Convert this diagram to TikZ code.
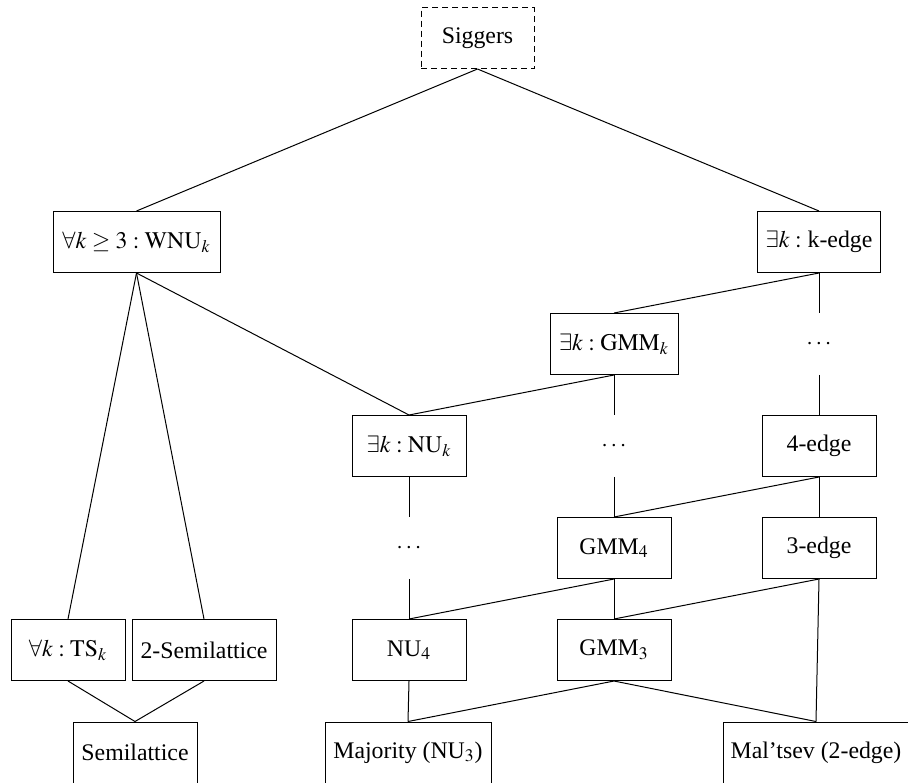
\documentclass[tikz,border=0pt]{standalone}
\usepackage{mathptmx}
\usepackage{fontspec}
\setmainfont{Liberation Serif}
\begin{document}
\begin{tikzpicture}[x=0.5pt,y=-0.5pt,
  every node/.style={font=\fontsize{11.9pt}{14pt}\selectfont},
  box/.style={draw, line width=0.5pt, minimum height=30.5pt, minimum width=57pt, inner sep=0pt},
  dbox/.style={box, dash pattern=on 3pt off 2pt},
  ghost/.style={minimum height=30.5pt, minimum width=57pt, inner sep=0pt},
  ln/.style={line width=0.5pt}]
\useasboundingbox (0,0) rectangle (908,782);
\node[dbox, minimum width=56.5pt] (sig) at (477.5,38) {Siggers};
\node[box, minimum width=83.5pt] (wnu) at (136.5,242) {$\forall k\geq 3:\mathrm{WNU}_k$};
\node[box, minimum width=61.5pt] (kedge) at (819,242) {$\exists k:$ k-edge};
\node[box, minimum width=64pt] (gmmk) at (614,344) {$\exists k:\mathrm{GMM}_k$};
\node[ghost] (dR) at (819,344) {$\cdots$};
\node[box] (nuk) at (409,446) {$\exists k:\mathrm{NU}_k$};
\node[ghost] (dM) at (614,446) {$\cdots$};
\node[box] (e4) at (819,446) {4-edge};
\node[ghost] (dL) at (409,548) {$\cdots$};
\node[box] (gmm4) at (614,548) {GMM$_4$};
\node[box] (e3) at (819,548) {3-edge};
\node[box] (ts) at (68,650) {$\forall k:\mathrm{TS}_k$};
\node[box, minimum width=72pt] (semi2) at (204,650) {2-Semilattice};
\node[box] (nu4) at (409,650) {NU$_4$};
\node[box] (gmm3) at (614,650) {GMM$_3$};
\node[box, minimum width=62pt] (semi) at (135,752.5) {Semilattice};
\node[box, minimum width=83pt] (maj) at (408,752.5) {Majority (NU$_3$)};
\node[box, minimum width=93pt] (mal) at (816,752.5) {Mal'tsev (2-edge)};
\draw[ln] (sig.south) -- (wnu.north);
\draw[ln] (sig.south) -- (kedge.north);
\draw[ln] (wnu.south) -- (ts.north);
\draw[ln] (wnu.south) -- (semi2.north);
\draw[ln] (wnu.south) -- (nuk.north);
\draw[ln] (kedge.south) -- (gmmk.north);
\draw[ln] (kedge.south) -- (dR.north);
\draw[ln] (gmmk.south) -- (nuk.north);
\draw[ln] (gmmk.south) -- (dM.north);
\draw[ln] (dR.south) -- (e4.north);
\draw[ln] (dM.south) -- (gmm4.north);
\draw[ln] (e4.south) -- (gmm4.north);
\draw[ln] (e4.south) -- (e3.north);
\draw[ln] (nuk.south) -- (dL.north);
\draw[ln] (dL.south) -- (nu4.north);
\draw[ln] (gmm4.south) -- (nu4.north);
\draw[ln] (gmm4.south) -- (gmm3.north);
\draw[ln] (e3.south) -- (gmm3.north);
\draw[ln] (e3.south) -- (mal.north);
\draw[ln] (ts.south) -- (semi.north);
\draw[ln] (semi2.south) -- (semi.north);
\draw[ln] (nu4.south) -- (maj.north);
\draw[ln] (gmm3.south) -- (maj.north);
\draw[ln] (gmm3.south) -- (mal.north);
\end{tikzpicture}
\end{document}
